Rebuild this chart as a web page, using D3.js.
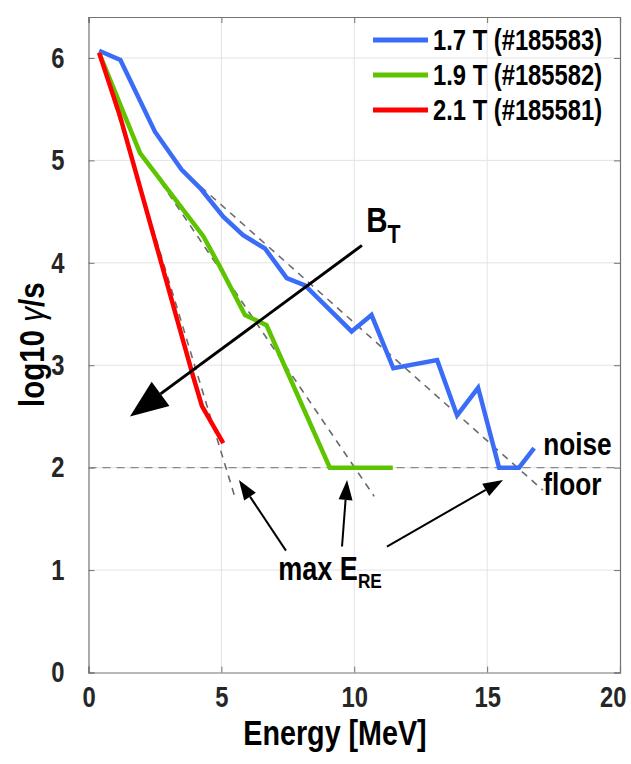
<!DOCTYPE html>
<html>
<head>
<meta charset="utf-8">
<script src="https://cdn.jsdelivr.net/npm/d3@7"></script>
<style>
  body { margin: 0; background: #fff; }
  text { font-family: "Liberation Sans", Arial, sans-serif; font-weight: bold; }
</style>
</head>
<body>
<div id="chart-area"></div>
<script>
// series: energy [MeV] and log10 gamma/s
var energy17 = [0.4, 1.2, 2.5, 3.5, 4.2, 5.07, 5.82, 6.64, 7.46, 8.15, 9.9, 10.65, 11.47, 13.12, 13.87, 14.66, 15.45, 16.2, 16.77];
var gamma17  = [6.07, 5.98, 5.28, 4.91, 4.73, 4.45, 4.27, 4.14, 3.85, 3.78, 3.33, 3.49, 2.97, 3.05, 2.51, 2.78, 2.0, 2.0, 2.19];

var energy19 = [0.4, 1.94, 4.32, 4.95, 5.89, 6.7, 9.08, 11.45];
var gamma19  = [6.05, 5.07, 4.26, 3.96, 3.49, 3.39, 2.0, 2.0];

var energy21 = [0.4, 1.2, 3.95, 4.27, 5.07];
var gamma21  = [6.05, 5.42, 2.88, 2.6, 2.24];

// dashed exponential fits (start / end)
var fit17 = [[3.5, 4.91], [17.1, 1.78]];
var fit19 = [[1.9, 5.1], [10.75, 1.72]];
var fit21 = [[0.4, 6.05], [5.5, 1.72]];
var noiseFloor = 2;

var seriesNames = ["1.7 T (#185583)", "1.9 T (#185582)", "2.1 T (#185581)"];
var seriesColors = ["#3b6cf7", "#5ec400", "#ff0000"];

var xTicks = [0, 5, 10, 15, 20];
var yTicks = [0, 1, 2, 3, 4, 5, 6];

var margin = { left: 88.5, right: 11, top: 17, bottom: 91.5 };
var W = 631, H = 764;
var width = W - margin.left - margin.right;
var height = H - margin.top - margin.bottom;

var svg = d3.select('#chart-area').append('svg')
  .attr('width', W)
  .attr('height', H);

var g = svg.append('g')
  .attr('transform', `translate(${margin.left}, ${margin.top})`);

var x = d3.scaleLinear().domain([0, 20]).range([0, width]);
var y = d3.scaleLinear().domain([0, 6.4]).range([height, 0]);

// grid
g.selectAll('.vgrid').data(xTicks.slice(1, -1)).enter().append('line')
  .attr('x1', d => x(d)).attr('x2', d => x(d))
  .attr('y1', 0).attr('y2', height)
  .attr('stroke', '#e3e3e3').attr('stroke-width', 1);
g.selectAll('.hgrid').data(yTicks.slice(1)).enter().append('line')
  .attr('x1', 0).attr('x2', width)
  .attr('y1', d => y(d)).attr('y2', d => y(d))
  .attr('stroke', '#e3e3e3').attr('stroke-width', 1);

// axes (ticks inward, box on)
var fmt = d3.format('d');
var xAxisCall = d3.axisBottom(x).tickValues(xTicks).tickSize(-6).tickPadding(14).tickFormat(fmt);
var yAxisCall = d3.axisLeft(y).tickValues(yTicks).tickSize(-6).tickPadding(24).tickFormat(fmt);
var xAxisGroup = g.append('g').attr('transform', `translate(0, ${height})`).call(xAxisCall);
var yAxisGroup = g.append('g').call(yAxisCall);
g.append('g').call(d3.axisTop(x).tickValues(xTicks).tickSize(-6).tickFormat(''));
g.append('g').attr('transform', `translate(${width}, 0)`)
  .call(d3.axisRight(y).tickValues(yTicks).tickSize(-6).tickFormat(''));

g.selectAll('.domain').attr('stroke', '#737373').attr('stroke-width', 1.2);
g.selectAll('.tick line').attr('stroke', '#737373');
xAxisGroup.selectAll('text').attr('font-size', '29px').attr('fill', '#262626')
  .attr('dy', '0.71em');
yAxisGroup.selectAll('text').attr('font-size', '29px').attr('fill', '#262626');
// keep the last x label inside the page
xAxisGroup.selectAll('.tick text').filter(d => d === 20).attr('text-anchor', 'end').attr('x', 6);

// noise floor
g.append('line')
  .attr('x1', x(0)).attr('x2', x(20))
  .attr('y1', y(noiseFloor)).attr('y2', y(noiseFloor))
  .attr('stroke', '#8a8a8a').attr('stroke-width', 1.3)
  .attr('stroke-dasharray', '8,6');

// fits
var fitLine = d3.line().x(d => x(d[0])).y(d => y(d[1]));
[fit17, fit19, fit21].forEach(f => {
  g.append('path')
    .attr('d', fitLine(f))
    .attr('fill', 'none')
    .attr('stroke', '#6b6b6b')
    .attr('stroke-width', 1.6)
    .attr('stroke-dasharray', '7,6');
});

// data lines
var series = [
  d3.zip(energy17, gamma17),
  d3.zip(energy19, gamma19),
  d3.zip(energy21, gamma21)
];
var line = d3.line().x(d => x(d[0])).y(d => y(d[1]));
series.forEach((s, i) => {
  g.append('path')
    .attr('d', line(s))
    .attr('fill', 'none')
    .attr('stroke', seriesColors[i])
    .attr('stroke-width', 4.5)
    .attr('stroke-linejoin', 'miter');
});

// legend
var legend = g.append('g').attr('transform', `translate(${373 - margin.left}, ${40 - margin.top})`);
seriesNames.forEach((name, i) => {
  var row = legend.append('g').attr('transform', `translate(0, ${i * 35})`);
  row.append('line')
    .attr('x1', 0).attr('x2', 55)
    .attr('stroke', seriesColors[i]).attr('stroke-width', 5);
  row.append('text')
    .attr('x', 60).attr('dy', '0.36em')
    .attr('font-size', '29px')
    .text(name);
});

// arrows
function arrow(from, to, w, headLen, headHalf) {
  var x1 = x(from[0]), y1 = y(from[1]), x2 = x(to[0]), y2 = y(to[1]);
  var a = Math.atan2(y2 - y1, x2 - x1);
  var bx = x2 - headLen * Math.cos(a), by = y2 - headLen * Math.sin(a);
  g.append('line')
    .attr('x1', x1).attr('y1', y1).attr('x2', bx).attr('y2', by)
    .attr('stroke', '#000').attr('stroke-width', w);
  var px = -Math.sin(a) * headHalf, py = Math.cos(a) * headHalf;
  g.append('path')
    .attr('d', `M${x2},${y2}L${bx + px},${by + py}L${bx - px},${by - py}Z`)
    .attr('fill', '#000');
}

arrow([10.29, 4.17], [1.56, 2.5], 3, 38, 15);
arrow([7.43, 1.19], [5.66, 1.88], 2, 20, 7);
arrow([9.54, 1.23], [9.73, 1.88], 2, 20, 7);
arrow([11.23, 1.23], [15.6, 1.88], 2, 20, 7);

// annotation text
var bt = g.append('text').attr('x', x(10.45)).attr('y', y(4.3)).attr('font-size', '36px');
bt.append('tspan').text('B');
bt.append('tspan').attr('font-size', '26px').attr('dy', 11).text('T');

var me = g.append('text').attr('x', x(7.14)).attr('y', y(0.9)).attr('font-size', '33px');
me.append('tspan').text('max E');
me.append('tspan').attr('font-size', '21px').attr('dy', 8).text('RE');

g.append('text').attr('x', x(17.11)).attr('y', y(2.12)).attr('font-size', '32px').text('noise');
g.append('text').attr('x', x(17.11)).attr('y', y(1.73)).attr('font-size', '32px').text('floor');

// axis titles
g.append('text')
  .attr('x', 335 - margin.left).attr('y', H - margin.top - 19)
  .attr('text-anchor', 'middle')
  .attr('font-size', '35px')
  .text('Energy [MeV]');

var yl = g.append('text')
  .attr('transform', `translate(${-margin.left + 44}, ${height / 2}) rotate(-90)`)
  .attr('text-anchor', 'middle')
  .attr('font-size', '36px');
yl.append('tspan').text('log10 ');
yl.append('tspan').attr('font-style', 'italic').attr('font-weight', 'normal').text('γ');
yl.append('tspan').text('/s');

// the figure uses a narrow bold face: squeeze every text along its own x axis
svg.selectAll('text').each(function() {
  var tx = +this.getAttribute('x') || 0;
  var t = this.getAttribute('transform') || '';
  d3.select(this).attr('transform', `${t} translate(${tx},0) scale(0.82,1) translate(${-tx},0)`);
});
</script>
</body>
</html>
